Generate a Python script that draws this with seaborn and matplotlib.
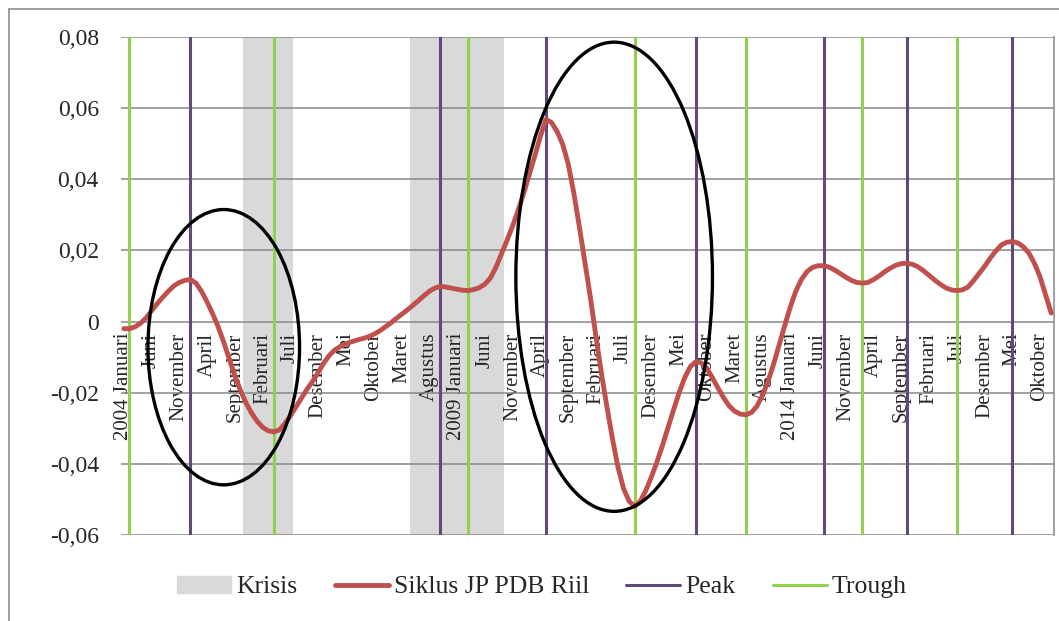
import matplotlib as mpl

mpl.use('Agg')
import numpy as np
import pandas as pd
import matplotlib.pyplot as plt
import seaborn as sns
from matplotlib.patches import Ellipse, Patch
from matplotlib.lines import Line2D

# monthly cycle values, Jan 2004 .. Dec 2017
y2004 = [-0.0020, -0.0020, -0.0015, -0.0005, 0.0010, 0.0030, 0.0050, 0.0068, 0.0085, 0.0100, 0.0110, 0.0116]
y2005 = [0.0118, 0.0108, 0.0085, 0.0055, 0.0022, -0.0015, -0.0058, -0.0105, -0.0152, -0.0193, -0.0228, -0.0257]
y2006 = [-0.0280, -0.0297, -0.0307, -0.0310, -0.0305, -0.0287, -0.0265, -0.0240, -0.0215, -0.0190, -0.0168, -0.0143]
y2007 = [-0.0117, -0.0095, -0.0080, -0.0070, -0.0062, -0.0057, -0.0052, -0.0048, -0.0043, -0.0036, -0.0027, -0.0016]
y2008 = [-0.0005, 0.0008, 0.0020, 0.0032, 0.0045, 0.0058, 0.0072, 0.0085, 0.0094, 0.0099, 0.0097, 0.0094]
y2009 = [0.0091, 0.0088, 0.0087, 0.0090, 0.0095, 0.0105, 0.0122, 0.0152, 0.0190, 0.0228, 0.0268, 0.0312]
y2010 = [0.0360, 0.0412, 0.0465, 0.0520, 0.0568, 0.0560, 0.0535, 0.0500, 0.0445, 0.0365, 0.0270, 0.0170]
y2011 = [0.0070, -0.0040, -0.0145, -0.0240, -0.0330, -0.0410, -0.0470, -0.0505, -0.0520, -0.0505, -0.0475, -0.0437]
y2012 = [-0.0395, -0.0348, -0.0298, -0.0248, -0.0200, -0.0158, -0.0127, -0.0113, -0.0116, -0.0132, -0.0158, -0.0187]
y2013 = [-0.0214, -0.0237, -0.0252, -0.0260, -0.0262, -0.0256, -0.0238, -0.0208, -0.0168, -0.0120, -0.0066, -0.0012]
y2014 = [0.0040, 0.0085, 0.0118, 0.0140, 0.0152, 0.0157, 0.0157, 0.0153, 0.0145, 0.0135, 0.0125, 0.0116]
y2015 = [0.0110, 0.0108, 0.0110, 0.0118, 0.0128, 0.0140, 0.0150, 0.0158, 0.0163, 0.0164, 0.0161, 0.0154]
y2016 = [0.0143, 0.0130, 0.0117, 0.0105, 0.0095, 0.0089, 0.0087, 0.0089, 0.0097, 0.0115, 0.0135, 0.0155]
y2017 = [0.0178, 0.0198, 0.0215, 0.0223, 0.0225, 0.0221, 0.0210, 0.0192, 0.0163, 0.0125, 0.0075, 0.0024]

siklus = (y2004 + y2005 + y2006 + y2007 + y2008 + y2009 + y2010 +
          y2011 + y2012 + y2013 + y2014 + y2015 + y2016 + y2017)

# month index (0 = Jan 2004) of turning points and crisis spans
peak_months = [12, 57, 76, 103, 126, 141, 160]
trough_months = [1, 27, 62, 92, 112, 133, 150]
krisis = [(22, 30), (52, 68)]

tick_labels = ["2004 Januari", "Juni", "November", "April", "September", "Februari",
               "Juli", "Desember", "Mei", "Oktober", "Maret", "Agustus",
               "2009 Januari", "Juni", "November", "April", "September", "Februari",
               "Juli", "Desember", "Mei", "Oktober", "Maret", "Agustus",
               "2014 Januari", "Juni", "November", "April", "September", "Februari",
               "Juli", "Desember", "Mei", "Oktober"]
yticks = [-0.06, -0.04, -0.02, 0, 0.02, 0.04, 0.06, 0.08]

RED = '#C0504D'
PURPLE = '#604A7B'
GREEN = '#92D050'
GREY = '#D9D9D9'

sns.set_style('white')
plt.rcParams['font.family'] = ['Liberation Serif', 'DejaVu Serif']

df = pd.DataFrame({'bulan': np.arange(len(siklus)), 'siklus': siklus})

fig = plt.figure(figsize=(10.59, 6.21), dpi=100)
ax = fig.add_axes([121 / 1059, 1 - 535 / 621, (1054 - 121) / 1059, (535 - 37) / 621])

# crisis shading
for s, e in krisis:
    ax.axvspan(s - 0.5, e + 0.5, color=GREY, lw=0, zorder=0)

# gridlines
for v in yticks:
    ax.axhline(v, color='#878787', lw=1.1, zorder=1)

for m in peak_months:
    ax.axvline(m, color=PURPLE, lw=2.2, zorder=2)
for m in trough_months:
    ax.axvline(m, color=GREEN, lw=2.2, zorder=2)

sns.lineplot(data=df, x='bulan', y='siklus', color=RED, lw=3.5, ax=ax, zorder=4)

# hand-drawn ellipses
ax.add_patch(Ellipse((18.0, -0.0072), 27.3, 0.0774, fill=False, ec='black', lw=2.4, zorder=5))
ax.add_patch(Ellipse((88.3, 0.0126), 35.4, 0.1319, fill=False, ec='black', lw=2.4, zorder=5))

ax.spines['bottom'].set_position(('data', 0))
ax.spines['bottom'].set_visible(False)
ax.spines['top'].set_visible(False)
ax.spines['left'].set_visible(False)
ax.spines['right'].set_color('#878787')
ax.spines['right'].set_linewidth(1.1)

ax.set_xlim(-0.5, len(siklus) - 0.5)
ax.set_ylim(-0.06, 0.08)
ax.set_yticks(yticks)
ax.set_yticklabels(['{:.2f}'.format(v).replace('.', ',') if v != 0 else '0' for v in yticks],
                   fontsize=17)
ax.set_xticks(np.arange(0, len(siklus), 5))
ax.set_xticklabels(tick_labels, rotation=90, fontsize=15, va='top', ha='center')
ax.tick_params(axis='x', length=0, pad=8)
ax.tick_params(axis='y', length=0, pad=16)
ax.set_xlabel('')
ax.set_ylabel('')

# outer chart frame
fig.add_artist(Line2D([9 / 1059, 1], [1 - 9 / 621] * 2, color='#8C8C8C', lw=1.2))
fig.add_artist(Line2D([9 / 1059] * 2, [0, 1 - 9 / 621], color='#8C8C8C', lw=1.2))

handles = [Patch(color=GREY), Line2D([], [], color=RED, lw=3.5),
           Line2D([], [], color=PURPLE, lw=2.2), Line2D([], [], color=GREEN, lw=2.2)]
fig.legend(handles, ['Krisis', 'Siklus JP PDB Riil', 'Peak', 'Trough'],
           loc='center', bbox_to_anchor=(542 / 1059, 1 - 587 / 621), ncol=4,
           frameon=False, fontsize=18.5, handlelength=2.1, handletextpad=0.2,
           columnspacing=1.45)

fig.savefig('out.png', dpi=100)
